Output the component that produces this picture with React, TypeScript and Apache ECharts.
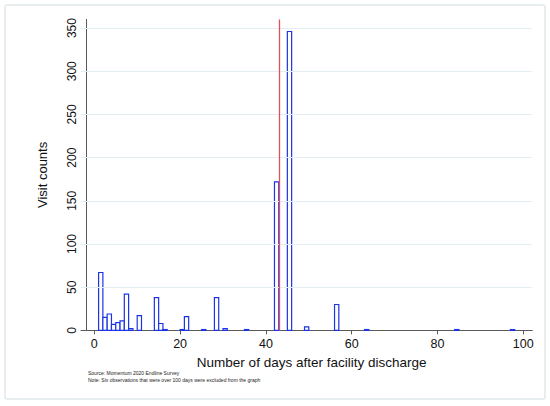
import React, { useEffect, useRef } from "react";
import * as echarts from "echarts";

// Histogram bins: start day of each one-day bin and its visit count
const binStarts = [1, 2, 3, 4, 5, 6, 7, 8, 10, 14, 15, 16, 20, 21, 25, 28, 30, 35, 42, 45, 49, 56, 63, 84, 97];
const binCounts = [67, 15, 19, 7, 9, 11, 42, 2, 17, 38, 8, 1, 1, 16, 1, 38, 2, 1, 172, 346, 4, 30, 1, 1, 1];
const xTicks = [0, 20, 40, 60, 80, 100];
const yTicks = [0, 50, 100, 150, 200, 250, 300, 350];
const gridValues = [50, 100, 150, 200, 250, 300, 350];
const refLineX = 43;
const refLineTop = 360;
const xName = "Number of days after facility discharge";
const yName = "Visit counts";
const notes = [
  "Source: Momentum 2020 Endline Survey",
  "Note: Six observations that were over 100 days were excluded from the graph",
];

const FONT = "'Liberation Sans', Arial, Helvetica, sans-serif";

export default function App() {
  const ref = useRef<HTMLDivElement>(null);
  useEffect(() => {
    if (!ref.current) return;
    const chart = echarts.init(ref.current, undefined, { renderer: "svg" });
    const data = binStarts.map((s, i) => [s, binCounts[i]]);
    chart.setOption({
      animation: false,
      backgroundColor: "#ffffff",
      textStyle: { fontFamily: FONT },
      graphic: [
        {
          type: "rect",
          z: -10,
          silent: true,
          shape: { x: 5, y: 5, width: 540, height: 394, r: 2 },
          style: { fill: "#ffffff", stroke: "#e1e9ec", lineWidth: 1.5 },
        },
        ...notes.map((t, i) => ({
          type: "text",
          silent: true,
          x: 88,
          y: 373.3 + i * 6.4,
          style: {
            text: t,
            fontSize: 5,
            fontFamily: FONT,
            fill: "#222",
            verticalAlign: "middle",
            align: "left",
          },
        })),
      ],
      grid: { left: 81, right: 17.7, top: 19.4, bottom: 75.6 },
      xAxis: {
        type: "value",
        min: -3.1,
        max: 102.1,
        name: xName,
        nameLocation: "middle",
        nameGap: 23,
        nameTextStyle: { fontSize: 13.5, color: "#111", fontFamily: FONT, padding: [0, 0, 0, 10] },
        axisLine: { show: true, onZero: false, lineStyle: { color: "#5a5a5a", width: 1 } },
        axisTick: { show: true, length: 4, lineStyle: { color: "#5a5a5a" }, customValues: xTicks },
        axisLabel: { fontSize: 12.5, color: "#111", margin: 7, customValues: xTicks, fontFamily: FONT },
        splitLine: { show: false },
      },
      yAxis: {
        type: "value",
        min: 0,
        max: 360,
        offset: -5,
        name: yName,
        nameLocation: "middle",
        nameGap: 37,
        nameRotate: 90,
        nameTextStyle: { fontSize: 13, color: "#111", fontFamily: FONT },
        axisLine: { show: true, onZero: false, lineStyle: { color: "#5a5a5a", width: 1 } },
        axisTick: { show: true, length: 4, lineStyle: { color: "#5a5a5a" }, customValues: yTicks },
        axisLabel: { fontSize: 12, color: "#111", margin: 8, rotate: 90, customValues: yTicks, fontFamily: FONT },
        splitLine: { show: false },
      },
      series: [
        {
          type: "line",
          data: [],
          z: 1,
          silent: true,
          markLine: {
            silent: true,
            symbol: "none",
            label: { show: false },
            lineStyle: { color: "#e3eef2", width: 1, type: "solid" },
            data: gridValues.map((v) => ({ yAxis: v })),
          },
        },
        {
          type: "custom",
          z: 3,
          silent: true,
          data,
          renderItem: (params: any, api: any) => {
            const x0 = api.value(0);
            const v = api.value(1);
            const p0 = api.coord([x0, 0]);
            const p1 = api.coord([x0 + 1, v]);
            return {
              type: "rect",
              shape: { x: p0[0], y: p1[1], width: p1[0] - p0[0], height: p0[1] - p1[1] },
              style: { fill: "#ffffff", stroke: "#1c34e6", lineWidth: 1.2 },
            };
          },
          markLine: {
            silent: true,
            symbol: "none",
            label: { show: false },
            lineStyle: { color: "#e0505c", width: 1.3, type: "solid" },
            data: [[{ coord: [refLineX, 0] }, { coord: [refLineX, refLineTop] }]],
          },
        },
      ],
    });
    return () => chart.dispose();
  }, []);
  return (
    <div
      ref={ref}
      style={{ position: "fixed", left: 0, top: 0, width: 550, height: 406 }}
    />
  );
}
